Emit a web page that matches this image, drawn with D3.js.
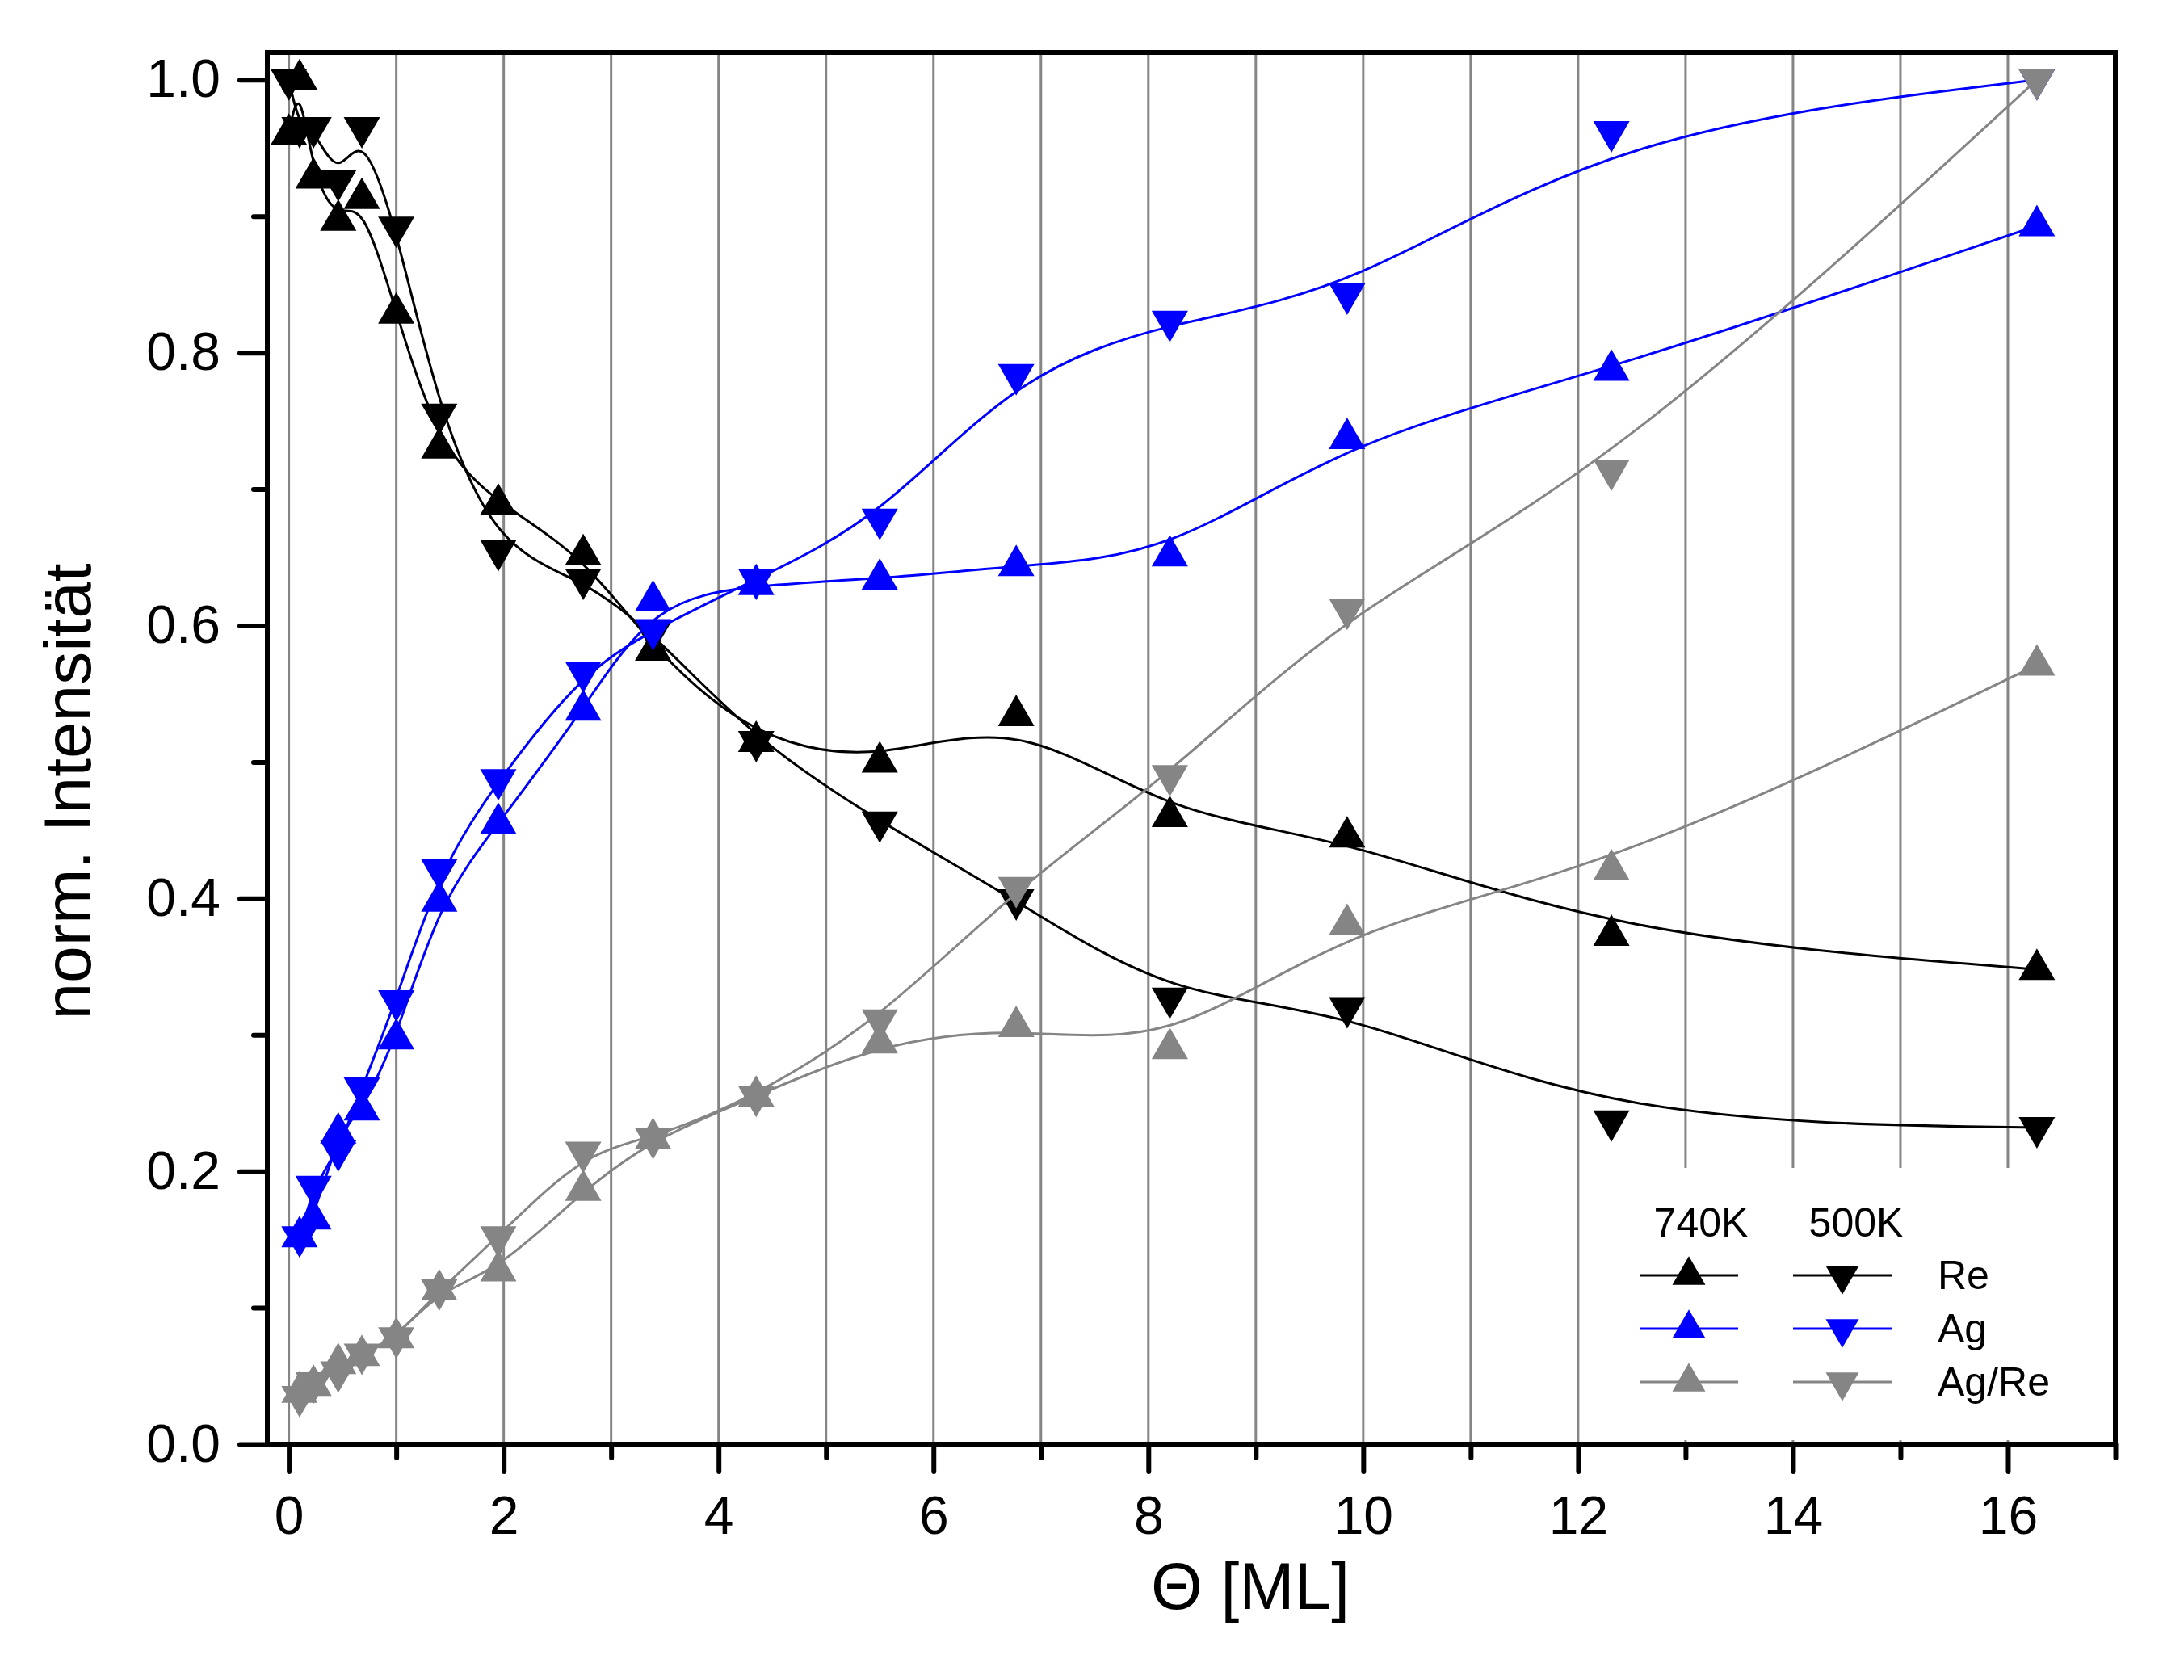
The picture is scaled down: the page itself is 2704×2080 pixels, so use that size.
<!DOCTYPE html>
<html><head><meta charset="utf-8">
<script src="https://cdn.jsdelivr.net/npm/d3@7"></script>
<style>
html,body{margin:0;padding:0;background:#ffffff;}
svg{display:block;}
text{font-family:"Liberation Sans", Arial, Helvetica, sans-serif;fill:#000;}
</style>
</head><body>
<svg id="chart" width="2704" height="2080"></svg>
<script>
// ---------------- data ----------------
const reX   = [0, 0.1, 0.23, 0.46, 0.68, 1.0, 1.4, 1.95, 2.74, 3.39, 4.35, 5.5, 6.77, 8.2, 9.85, 12.31, 16.27];
const re740 = [0.96, 1.0, 0.928, 0.897, 0.913, 0.829, 0.73, 0.689, 0.652, 0.582, 0.515, 0.50, 0.534, 0.46, 0.445, 0.373, 0.348];
const re500 = [1.0, 0.965, 0.965, 0.926, 0.965, 0.892, 0.755, 0.655, 0.634, 0.595, 0.515, 0.456, 0.399, 0.327, 0.32, 0.237, 0.232];

const agX   = [0.1, 0.23, 0.46, 0.68, 1.0, 1.4, 1.95, 2.74, 3.39, 4.35, 5.5, 6.77, 8.2, 9.85, 12.31, 16.27];
const ag740 = [0.152, 0.165, 0.228, 0.245, 0.297, 0.398, 0.455, 0.538, 0.618, 0.630, 0.634, 0.644, 0.651, 0.737, 0.787, 0.893];
const ag500 = [0.152, 0.189, 0.215, 0.261, 0.325, 0.421, 0.487, 0.566, 0.597, 0.634, 0.678, 0.784, 0.823, 0.843, 0.962, 1.0];
const agRe740 = [0.038, 0.043, 0.059, 0.065, 0.078, 0.113, 0.127, 0.186, 0.224, 0.255, 0.294, 0.306, 0.29, 0.381, 0.421, 0.571];
const agRe500 = [0.035, 0.045, 0.053, 0.066, 0.078, 0.113, 0.152, 0.214, 0.224, 0.255, 0.311, 0.408, 0.49, 0.612, 0.714, 1.0];

const xMajorTicks = [0, 2, 4, 6, 8, 10, 12, 14, 16];
const xMinorTicks = [1, 3, 5, 7, 9, 11, 13, 15, 17];
const yMajorTicks = [0, 0.2, 0.4, 0.6, 0.8, 1.0];
const yMinorTicks = [0.1, 0.3, 0.5, 0.7, 0.9];
const gridX = [0,1,2,3,4,5,6,7,8,9,10,11,12,13,14,15,16];

const legendTemps = ["740K", "500K"];
const legendNames = ["Re", "Ag", "Ag/Re"];
const seriesColors = ["#000000", "#0000ff", "#858585"];

const xTitle = "\u0398 [ML]";
const yTitle = "norm. Intensit\u00e4t";

// ---------------- layout ----------------
const L = 331, R = 2619, T = 65, B = 1788;
const x = d3.scaleLinear().domain([-0.2, 17]).range([L, R]);
const y = d3.scaleLinear().domain([0, 1.02]).range([B, T]);

const svg = d3.select("#chart");
svg.append("rect").attr("width", 2704).attr("height", 2080).attr("fill", "#ffffff");

// grid
svg.append("g").selectAll("line").data(gridX).join("line")
  .attr("x1", d => x(d)).attr("x2", d => x(d))
  .attr("y1", T).attr("y2", B)
  .attr("stroke", "#858585").attr("stroke-width", 3);

// legend background (covers grid)
const legX0 = 1962, legX1 = 2616, legY0 = 1446, legY1 = 1783;
svg.append("rect").attr("x", legX0).attr("y", legY0)
  .attr("width", legX1 - legX0).attr("height", legY1 - legY0).attr("fill", "#ffffff");

// series
const series = [
  {xs: reX, ys: re740, color: seriesColors[0], down: false},
  {xs: reX, ys: re500, color: seriesColors[0], down: true},
  {xs: agX, ys: ag740, color: seriesColors[1], down: false},
  {xs: agX, ys: ag500, color: seriesColors[1], down: true},
  {xs: agX, ys: agRe740, color: seriesColors[2], down: false},
  {xs: agX, ys: agRe500, color: seriesColors[2], down: true}
];

const markerArea = 878;
const legendArea = 728;
const tri = d3.symbol().type(d3.symbolTriangle);
const line = d3.line().x(d => x(d[0])).y(d => y(d[1])).curve(d3.curveBasis);

const plotG = svg.append("g");
series.forEach(s => {
  const pts = s.xs.map((v, i) => [v, s.ys[i]]);
  plotG.append("path").attr("d", line(pts))
    .attr("fill", "none").attr("stroke", s.color).attr("stroke-width", 3);
  plotG.append("g").selectAll("path").data(pts).join("path")
    .attr("d", tri.size(markerArea)())
    .attr("transform", d => `translate(${x(d[0])},${y(d[1])})` + (s.down ? " rotate(180)" : ""))
    .attr("fill", s.color);
});

// axes ticks
const tickStyle = g => {
  g.select(".domain").remove();
  g.selectAll(".tick line").attr("stroke", "#000").attr("stroke-width", 6).attr("stroke-linecap", "round");
  g.selectAll(".tick text").attr("font-size", 66).attr("font-family", "Liberation Sans, Arial, sans-serif").attr("fill", "#000");
};
svg.append("g").attr("transform", `translate(0,${B})`)
  .call(d3.axisBottom(x).tickValues(xMinorTicks).tickSize(17).tickFormat(""))
  .call(tickStyle);
svg.append("g").attr("transform", `translate(0,${B})`)
  .call(d3.axisBottom(x).tickValues(xMajorTicks).tickSize(34).tickPadding(30).tickFormat(d3.format("d")))
  .call(tickStyle);
svg.append("g").attr("transform", `translate(${L},0)`)
  .call(d3.axisLeft(y).tickValues(yMinorTicks).tickSize(17).tickFormat(""))
  .call(tickStyle);
svg.append("g").attr("transform", `translate(${L},0)`)
  .call(d3.axisLeft(y).tickValues(yMajorTicks).tickSize(34).tickPadding(24).tickFormat(d3.format(".1f")))
  .call(tickStyle);

// frame
svg.append("rect").attr("x", L).attr("y", T).attr("width", R - L).attr("height", B - T)
  .attr("fill", "none").attr("stroke", "#000").attr("stroke-width", 6);

// titles
svg.append("text").attr("x", 1548).attr("y", 1992).attr("text-anchor", "middle")
  .attr("font-size", 82).text(xTitle);
svg.append("text").attr("transform", "translate(112,980) rotate(-90)").attr("text-anchor", "middle")
  .attr("font-size", 82).text(yTitle);

// legend
const legG = svg.append("g");
const colCenters = [2091, 2281];
const colHalf = 61;
const rowY = [1579, 1645, 1711];
legendTemps.forEach((t, i) => {
  legG.append("text").attr("x", [2106, 2298][i]).attr("y", 1531).attr("text-anchor", "middle")
    .attr("font-size", 50).text(t);
});
legendNames.forEach((n, r) => {
  colCenters.forEach((cx, c) => {
    legG.append("line").attr("x1", cx - colHalf).attr("x2", cx + colHalf)
      .attr("y1", rowY[r]).attr("y2", rowY[r])
      .attr("stroke", seriesColors[r]).attr("stroke-width", 3);
    legG.append("path").attr("d", tri.size(legendArea)())
      .attr("transform", `translate(${cx},${rowY[r]})` + (c === 1 ? " rotate(180)" : ""))
      .attr("fill", seriesColors[r]);
  });
  legG.append("text").attr("x", 2399).attr("y", rowY[r] + 17).attr("font-size", 50).text(n);
});
</script>
</body></html>
